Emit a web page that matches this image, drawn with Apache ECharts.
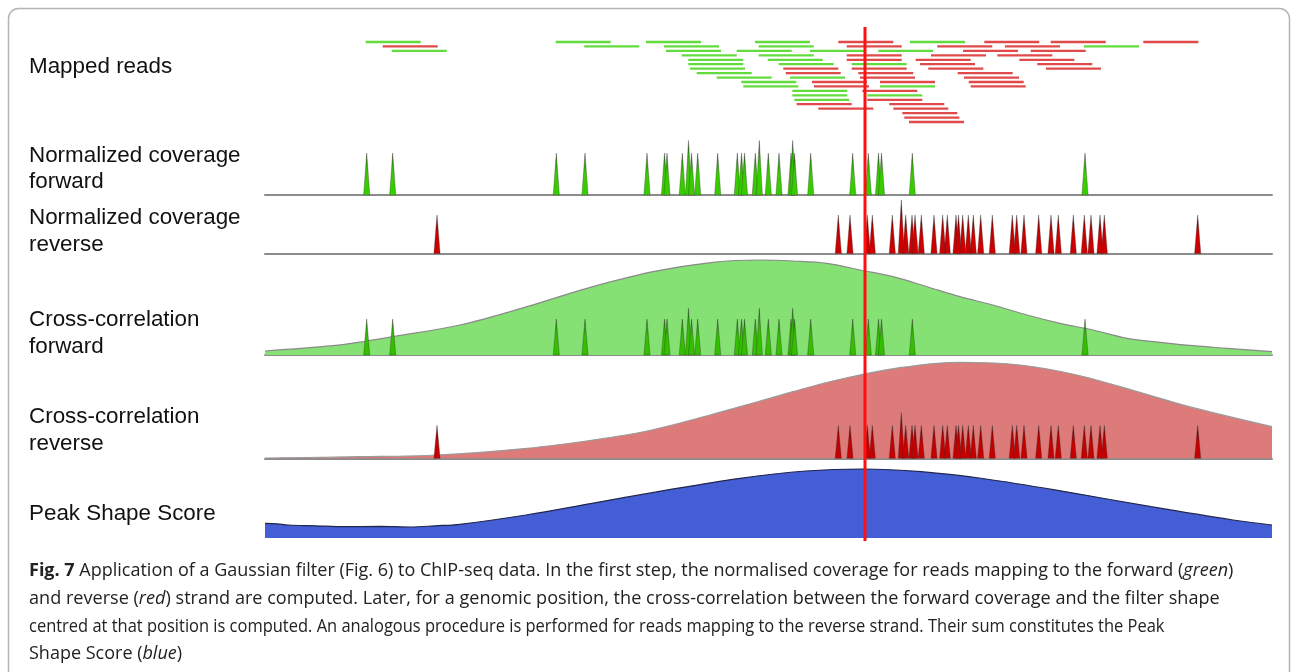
<!DOCTYPE html>
<html><head><meta charset="utf-8">
<script src="https://cdn.jsdelivr.net/npm/echarts@6/dist/echarts.min.js"></script>
<style>html,body{margin:0;padding:0;background:#fff}#c{width:1292px;height:672px}</style>
</head><body><div id="c"></div>
<script>
// ---------- DATA (genomic position units, window 0..1007) ----------
const READ_LEN = 55;
const fwdReadStart = [100.7,290.7,381,490,645, 319.3,399,493.7,819, 126.7,401,471.7,545,613.3, 416.7,493.7, 423.3,502.7, 423.3,513.7,586.7, 425, 431.7, 451.7,525, 476.3, 478.3,615, 527.3, 527.3,602.3, 529.3];
const fwdReadRow   = [0,0,0,0,0, 1,1,1,1, 2,2,2,2,2, 3,3, 4,4, 5,5,5, 6, 7, 8,8, 9, 10,10, 11, 12,12, 13];
const revReadStart = [573.3,719.3,785.7,878.3, 117.7,581.7,672.3,740, 698,765.7, 581.7,666,732.3, 581.7,650.7,754.3, 655,772.3, 518.3,586.7,663.3,781, 520.7,593.3,692.7, 595,699, 547,615,703.7, 549,705.7, 597.3, 602.3, 531.7,624.3, 553.3,628.3, 637.3, 639.3, 644];
const revReadRow   = [0,0,0,0, 1,1,1,1, 2,2, 3,3,3, 4,4,4, 5,5, 6,6,6,6, 7,7,7, 8,8, 9,9,9, 10,10, 11, 13, 14,14, 15,15, 16, 17, 18];

const fwdCovPos = [101.7,127.7,291.3,320,382,399.5,402,417.3,423.5,426.5,432.7,452.7,472.3,476.5,479.5,490.3,494.3,503.3,514,526,527.7,529.5,545.7,587.7,603.3,613.5,616.5,647.3,820];
const fwdCovVal = [1,1,1,1,1,1,1,1,1.3,1,1,1,1,1,1,1,1.3,1,1,1,1.3,1,1,1,1,1,1,1,1];
const revCovPos = [172,573.3,585,602.3,607.3,627.3,636.3,640.7,647,650,656.3,669,677.7,682.3,691,693.5,697.7,703.3,708.3,715.7,727.3,747.3,751.7,759,773.7,786,793.3,808.3,819.3,826,835,839.3,932.7];
const revCovVal = [1,1,1,1,1,1,1.39,1,1,1,1,1,1,1,1,1,1,1,1,1,1,1,1,1,1,1,1,1,1,1,1,1,1];

const ccFwdPos = [0,68,102,128,195,262,322,388,448,495,528,562,595,628,662,695,728,762,795,828,862,895,928,962,1007];
const ccFwdVal = [4,9.3,14,18.3,30,48.3,66.7,83.3,92.7,95,94,91.7,85,78.3,68.3,58.3,50,40,31.7,25,16.7,12.7,9.3,6.7,3.3];
const ccRevPos = [0,95,172,262,328,382,445,495,528,572,635,695,755,812,878,928,1007];
const ccRevVal = [0.3,1.6,3.3,10,18.3,27.3,43.3,57.3,66.6,78.3,90.6,96,93.3,83.3,65,50.6,31.6];
const scorePos = [0,12,23,50,80,115,146,170,195,261,327,393,475,541,598,656,721,804,886,968,1007];
const scoreVal = [14.7,14.2,13,12.2,11.3,11.6,11,12.2,13.7,23,34.7,46.3,59.7,67,69,66.3,59,45.7,31.3,18,13];
const peakCenter = 600;

const panelLabels = [
  ['Mapped reads', 67],
  ['Normalized coverage', 156], ['forward', 182],
  ['Normalized coverage', 218], ['reverse', 245],
  ['Cross-correlation', 320], ['forward', 347],
  ['Cross-correlation', 417], ['reverse', 444],
  ['Peak Shape Score', 514]
];
const captionLines = [
  '{b|Fig. 7} Application of a Gaussian filter (Fig. 6) to ChIP-seq data. In the first step, the normalised coverage for reads mapping to the forward ({i|green})',
  'and reverse ({i|red}) strand are computed. Later, for a genomic position, the cross-correlation between the forward coverage and the filter shape',
  'centred at that position is computed. An analogous procedure is performed for reads mapping to the reverse strand. Their sum constitutes the Peak',
  'Shape Score ({i|blue})'
];

// ---------- CHART ----------
const chart = echarts.init(document.getElementById('c'), null, {renderer:'canvas'});
const X_MIN = 0, X_MAX = 1007;
const gridDefs = [
  {top:42, height:80},
  {top:140, height:55},
  {top:198, height:55.5},
  {top:255, height:100},
  {top:358.3, height:100},
  {top:438, height:100},
  {top:27, height:514}
];
const grids = gridDefs.map(g => ({left:265, right:20, top:g.top, height:g.height, containLabel:false}));
const baseLine = {show:true, onZero:true, lineStyle:{color:'#8c8c8c', width:2}};
const xAxes = gridDefs.map((g,i) => ({
  type:'value', gridIndex:i, min:X_MIN, max:X_MAX,
  show: (i>=1 && i<=4),
  axisLine: baseLine, axisTick:{show:false}, axisLabel:{show:false}, splitLine:{show:false}
}));
const yRanges = [[0,18,true],[0,1.31],[0,1.44],[0,100],[0,100],[0,100],[0,1]];
const yAxes = yRanges.map((r,i) => ({
  type:'value', gridIndex:i, min:r[0], max:r[1], inverse: !!r[2], show:false,
  splitLine:{show:false}
}));

function readSeries(starts, rows, color){
  return {
    type:'custom', xAxisIndex:0, yAxisIndex:0,
    data: starts.map((s,k)=>[s, rows[k]]),
    renderItem(params, api){
      const a = api.coord([api.value(0), api.value(1)]);
      const b = api.coord([api.value(0)+READ_LEN, api.value(1)]);
      return {type:'line', shape:{x1:a[0], y1:a[1], x2:b[0], y2:b[1]}, style:{stroke:color, lineWidth:2.3}};
    }, z:3
  };
}
function spikeSeries(idx, pos, vals, scale, body, z){
  return {
    type:'custom', xAxisIndex:idx, yAxisIndex:idx,
    data: pos.map((p,k)=>[p, vals[k]]),
    renderItem(params, api){
      const x = api.value(0), h = api.value(1)*scale;
      const a = api.coord([x-3.1, 0]), b = api.coord([x, h]), c = api.coord([x+3.1, 0]);
      return {type:'polygon', shape:{points:[a,b,c]}, style:{
        fill:{type:'linear', x:0, y:0, x2:0, y2:1, colorStops:[
          {offset:0, color:'#262626'}, {offset:0.22, color:body[0]}, {offset:0.5, color:body[1]}, {offset:1, color:body[1]}]},
        stroke:'rgba(50,50,50,0.55)', lineWidth:0.6}};
    }, z: z||4
  };
}
function areaSeries(idx, pos, vals, fill, line){
  return {
    type:'line', xAxisIndex:idx, yAxisIndex:idx, showSymbol:false, smooth:0.35,
    data: pos.map((p,k)=>[p, vals[k]]),
    lineStyle:{color:line, width:1.2}, areaStyle:{color:fill, opacity:1}, z:2, silent:true
  };
}

const series = [
  readSeries(fwdReadStart, fwdReadRow, '#62dc3c'),
  readSeries(revReadStart, revReadRow, '#e04a4a'),
  spikeSeries(1, fwdCovPos, fwdCovVal, 1, ['#2e9a0c','#38cc00']),
  spikeSeries(2, revCovPos, revCovVal, 1, ['#900000','#cc0000']),
  areaSeries(3, ccFwdPos, ccFwdVal, '#86e174', '#8a8a8a'),
  spikeSeries(3, fwdCovPos, fwdCovVal, 36, ['#2e9a0c','#34be00']),
  areaSeries(4, ccRevPos, ccRevVal, '#dc7b79', '#9a9a9a'),
  spikeSeries(4, revCovPos, revCovVal, 33, ['#900000','#c40000']),
  areaSeries(5, scorePos, scoreVal, '#445fd6', '#22264a'),
  {
    type:'custom', xAxisIndex:6, yAxisIndex:6, data:[[peakCenter]], z:10,
    renderItem(params, api){
      const a = api.coord([api.value(0), 0]), b = api.coord([api.value(0), 1]);
      return {type:'line', shape:{x1:a[0], y1:a[1], x2:b[0], y2:b[1]}, style:{stroke:'#ff1010', lineWidth:3}};
    }
  }
];

const graphics = [
  {type:'rect', shape:{x:8.5, y:8.5, width:1281, height:700, r:10}, style:{fill:'none', stroke:'#b4b4b4', lineWidth:1.5}, silent:true, z:0}
];
panelLabels.forEach(([t,y]) => graphics.push({
  type:'text', x:29, y:y, style:{text:t, fontFamily:'Liberation Sans, Arial, sans-serif', fontSize:22.4, fill:'#111', verticalAlign:'middle', align:'left'}, z:5
}));
const capFont = '"Open Sans", sans-serif';
const capY = [571, 599, 627, 654];
const capScale = [1, 1.005, 0.915, 1];
captionLines.forEach((t,k) => graphics.push({
  type:'text', x:29, y:capY[k], scaleX:capScale[k],
  style:{text:t, fontFamily:capFont, fontSize:18, fill:'#222', verticalAlign:'middle', align:'left',
    rich:{b:{fontFamily:capFont, fontSize:18, fontWeight:'bold', fill:'#222'}, i:{fontFamily:capFont, fontSize:18, fontStyle:'italic', fill:'#222'}}},
  z:5
}));

chart.setOption({
  animation:false,
  backgroundColor:'#ffffff',
  grid: grids, xAxis: xAxes, yAxis: yAxes, series: series, graphic: graphics
});
</script></body></html>
